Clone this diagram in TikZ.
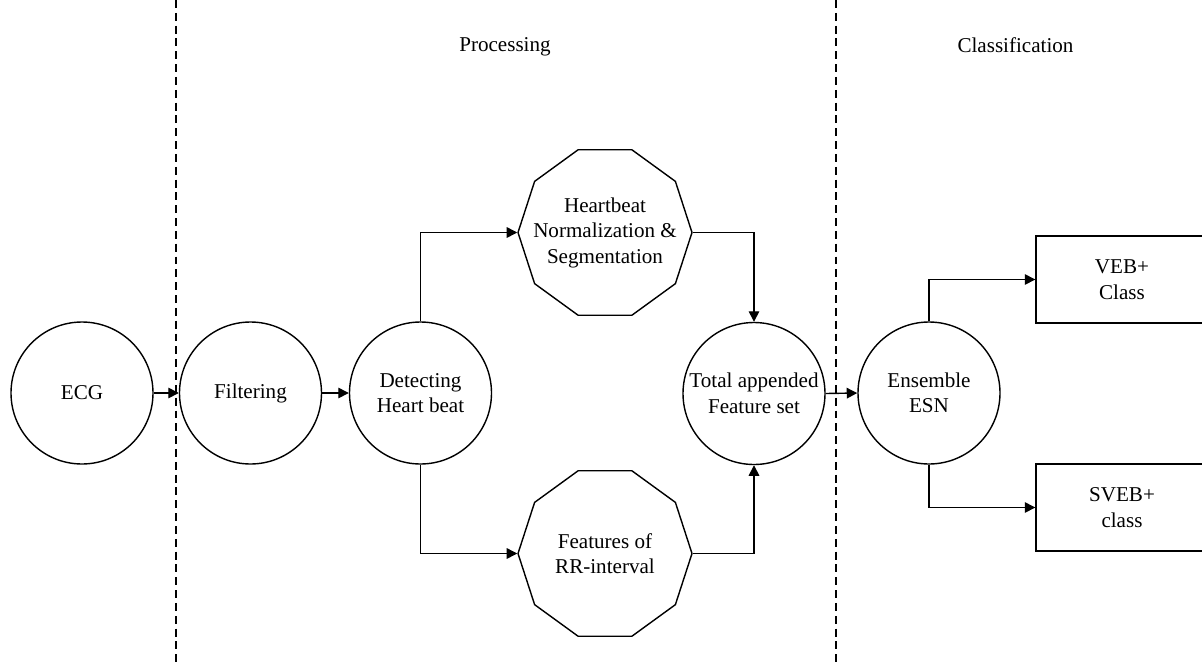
\documentclass[tikz,border=0pt]{standalone}
\usepackage{fontspec}
\setmainfont{Liberation Serif}
\usetikzlibrary{shapes.geometric, arrows.meta}

\tikzset{
    stage/.style={draw, circle, line width=0.8pt, minimum size=2.84cm, inner sep=0pt, align=center},
    decastage/.style={draw, regular polygon, regular polygon sides=10,
        line width=0.8pt, minimum size=3.48cm, inner sep=-8pt, align=center},
    classbox/.style={draw, rectangle, line width=0.8pt, minimum width=3.44cm, minimum height=1.74cm, align=center},
    flow/.style={-{Triangle[length=6pt, width=6pt]}, line width=0.8pt},
    divider/.style={line width=0.8pt, dash pattern=on 4.5pt off 2.8pt}
}

\begin{document}
\begin{tikzpicture}[font=\fontsize{12}{14.5}\selectfont]

    % Frame of the picture
    \clip (0, 0) rectangle (24.04, -13.30);

    % Draw the dashed dividers and the column titles
    \coordinate (div1_top) at (3.52, 0);
    \coordinate (div1_bot) at (3.52, -13.30);
    \coordinate (div2_top) at (16.72, 0);
    \coordinate (div2_bot) at (16.72, -13.30);
    \draw[divider] (div1_top) -- (div1_bot);
    \draw[divider] (div2_top) -- (div2_bot);
    \node[anchor=base] (title_proc) at (10.10, -1.03) {Processing};
    \node[anchor=base] (title_class) at (20.31, -1.05) {Classification};

    % Row of circles in the middle
    \node[stage] (ecg) at (1.64, -7.86) {ECG};
    \node[stage] (filter) at (5.01, -7.86) {Filtering};
    \node[stage] (detect) at (8.41, -7.86) {Detecting\\Heart beat};
    \node[stage] (total) at (15.08, -7.87) {Total appended\\Feature set};
    \node[stage] (ensemble) at (18.58, -7.86) {Ensemble\\ESN};

    % Draw the two decagons
    \node[decastage] (norm) at (12.10, -4.65) {Heartbeat\\Normalization \&\\Segmentation};
    \node[decastage] (rr) at (12.10, -11.07) {Features of\\RR-interval};

    % Draw the output classes
    \node[classbox] (veb) at (22.44, -5.59) {VEB+\\Class};
    \node[classbox] (sveb) at (22.44, -10.15) {SVEB+\\class};

    % Draw arrows along the chain
    \draw[flow] (ecg.east) -- (filter.west);
    \draw[flow] (filter.east) -- (detect.west);
    \draw[flow] (detect.north) |- (norm.west);
    \draw[flow] (detect.south) |- (rr.west);
    \draw[flow] (norm.east) -| (total.north);
    \draw[flow] (rr.east) -| (total.south);
    \draw[flow] (total.east) -- (ensemble.west);
    \draw[flow] (ensemble.north) |- (veb.west);
    \draw[flow] (ensemble.south) |- (sveb.west);

\end{tikzpicture}
\end{document}
